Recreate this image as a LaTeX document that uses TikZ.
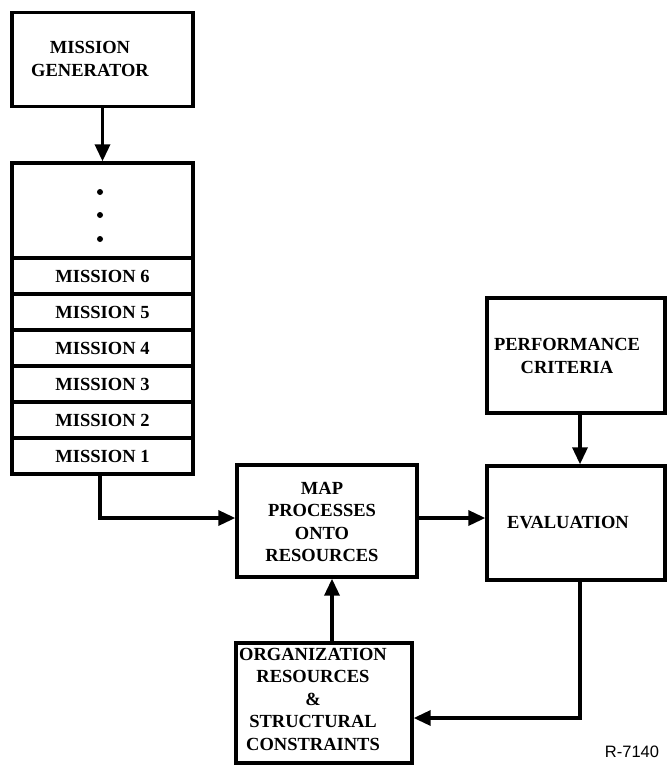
\documentclass[tikz,border=0pt]{standalone}
\usepackage{fontspec}
\setmainfont{Liberation Serif}
\setsansfont{Liberation Sans}
\usetikzlibrary{positioning,arrows.meta}

\tikzset{
  blk/.style={draw, line width=3.4pt, rectangle, inner sep=0pt},
  lbl/.style={font=\fontsize{18.5}{22.5}\selectfont\bfseries, align=center, inner sep=0pt},
  flow/.style={line width=3.4pt, -{Triangle[length=17pt,width=15pt]}}
}

\begin{document}
\begin{tikzpicture}[x=1pt,y=-1pt]
\useasboundingbox (0,0) rectangle (667,765);

% mission generator
\node[blk, minimum width=181pt, minimum height=94pt] (gen) at (102.5,59.5) {};
\node[lbl] (gentxt) at (90,59) {MISSION\\GENERATOR};

% mission stack
\node[blk, minimum width=181pt, minimum height=95pt] (dots) at (102.5,210.5) {};
\fill (100,192) circle (3pt);
\fill (100,215) circle (3pt);
\fill (100,239) circle (3pt);
\node[blk, minimum width=181pt, minimum height=36pt, lbl] (m6) at (102.5,276) {MISSION 6};
\node[blk, minimum width=181pt, minimum height=36pt, lbl] (m5) at (102.5,312) {MISSION 5};
\node[blk, minimum width=181pt, minimum height=36pt, lbl] (m4) at (102.5,348) {MISSION 4};
\node[blk, minimum width=181pt, minimum height=36pt, lbl] (m3) at (102.5,384) {MISSION 3};
\node[blk, minimum width=181pt, minimum height=36pt, lbl] (m2) at (102.5,420) {MISSION 2};
\node[blk, minimum width=181pt, minimum height=36pt, lbl] (m1) at (102.5,456) {MISSION 1};

% mapping, criteria, evaluation
\node[blk, minimum width=180pt, minimum height=112pt] (map) at (327,521) {};
\node[lbl] (maptxt) at (322,522) {MAP\\PROCESSES\\ONTO\\RESOURCES};
\node[blk, minimum width=178pt, minimum height=115pt] (perf) at (576,355.5) {};
\node[lbl] (perftxt) at (567,356) {PERFORMANCE\\CRITERIA};
\node[blk, minimum width=178pt, minimum height=114pt] (eval) at (576,523) {};
\node[lbl] (evaltxt) at (568,523) {EVALUATION};

% organization
\node[blk, minimum width=176pt, minimum height=120pt] (org) at (324,703) {};
\node[lbl] (orgtxt) at (313,699) {ORGANIZATION\\RESOURCES\\\&\\STRUCTURAL\\CONSTRAINTS};

\node[font=\sffamily\fontsize{16.5}{19}\selectfont, inner sep=0pt] (tag) at (632,752) {R-7140};

% connectors
\draw[flow] (gen) -- (dots);
\draw[flow] ([xshift=-2.5pt]m1.south) |- ([yshift=3pt]map.west);
\draw[flow] ([yshift=3pt]map.east) -- ([yshift=3pt]map.east -| eval.west);
\draw[flow] ([xshift=4pt]perf.south) -- ([xshift=4pt]eval.north);
\draw[flow] ([xshift=4pt]eval.south) |- ([yshift=-15pt]org.east);
\draw[flow] ([xshift=8pt]org.north) -- ([xshift=8pt]org.north |- map.south);
\end{tikzpicture}
\end{document}
